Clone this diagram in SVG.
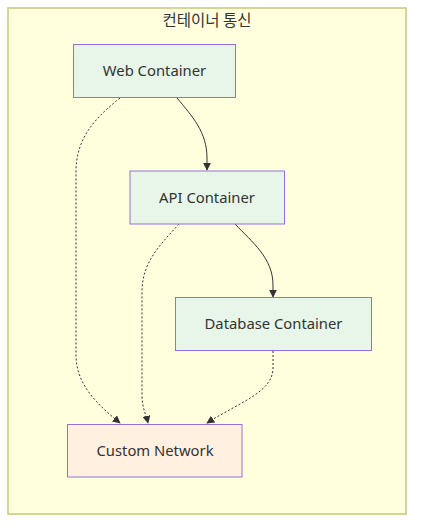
<svg xmlns="http://www.w3.org/2000/svg" width="422" height="532" viewBox="0 0 422 532">
<style>
.cluster{fill:#ffffde;stroke:#c8c87a;stroke-width:1.5}
.node rect{fill:#e8f5e9;stroke:#9370db;stroke-width:1}
.node.net rect{fill:#fff0e0}
text{font-family:"Noto Sans","Liberation Sans",Arial,sans-serif;font-size:14.8px;fill:#333;text-anchor:middle;dominant-baseline:central}
.title{font-family:"Noto Sans CJK KR","Noto Sans",sans-serif;font-size:15.5px}
.edge{fill:none;stroke:#333;stroke-width:1}
.dot{stroke-dasharray:2,2}
</style>
<defs>
<marker id="arr" viewBox="0 0 10 10" refX="9" refY="5" markerWidth="8" markerHeight="8" markerUnits="userSpaceOnUse" orient="auto">
<path d="M0,0 L10,5 L0,10 z" fill="#333"/>
</marker>
</defs>
<g id="cluster">
<rect class="cluster" x="8" y="8" width="398" height="506"/>
<text class="title" x="207" y="19">컨테이너 통신</text>
</g>
<g id="edges">
<path class="edge" d="M177,98 C192,116 207,132 207,158 L207,170" marker-end="url(#arr)"/>
<path class="edge dot" d="M120,98 C95,118 76,138 76,172 L76,355 C76,385 98,405 120,423" marker-end="url(#arr)"/>
<path class="edge dot" d="M179,224 C160,245 142,262 142,292 L142,395 C142,408 146,414 148,423" marker-end="url(#arr)"/>
<path class="edge" d="M235,224 C252,242 273,258 273,285 L273,297" marker-end="url(#arr)"/>
<path class="edge dot" d="M273,351 L273,368 C273,392 240,402 207,423" marker-end="url(#arr)"/>
</g>
<g id="web" class="node">
<rect x="73.5" y="44.5" width="162" height="53"/>
<text x="154.5" y="70">Web Container</text>
</g>
<g id="api" class="node">
<rect x="130" y="171" width="154.5" height="53"/>
<text x="207" y="196.5">API Container</text>
</g>
<g id="db" class="node">
<rect x="175.5" y="297.5" width="196" height="53"/>
<text x="273.5" y="323">Database Container</text>
</g>
<g id="network" class="node net">
<rect x="67.5" y="424.5" width="174.5" height="52.5"/>
<text x="155" y="450">Custom Network</text>
</g>
</svg>
